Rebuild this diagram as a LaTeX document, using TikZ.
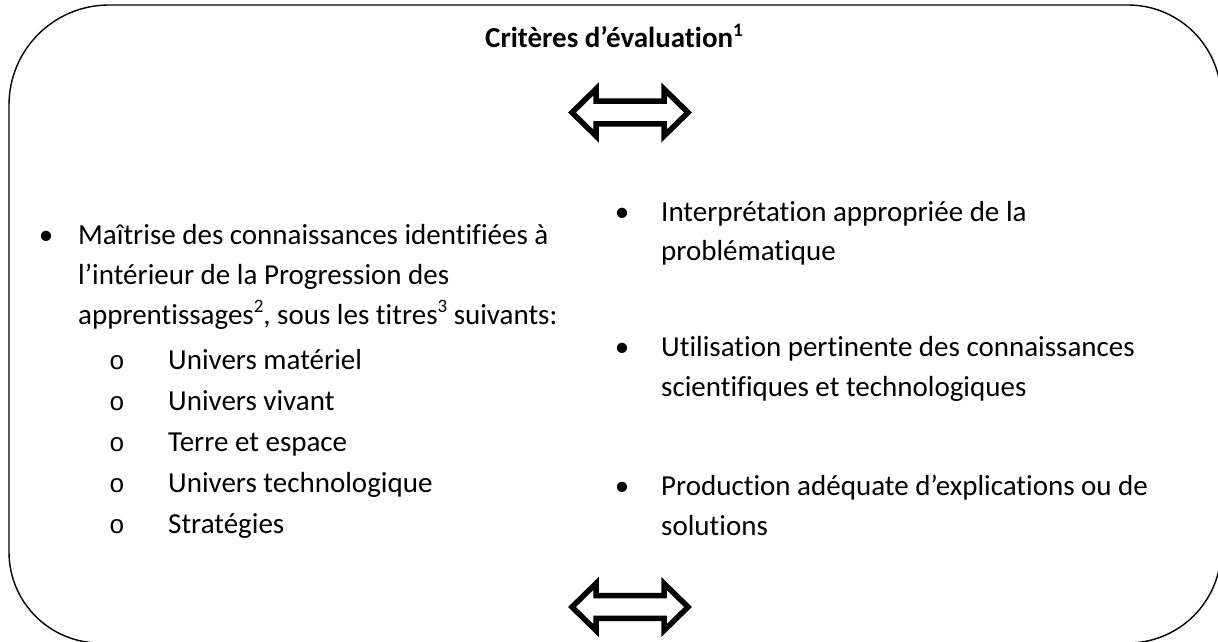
\documentclass[tikz,border=0pt]{standalone}
\usepackage{fontspec}
\setmainfont{Carlito}[Ligatures={NoCommon,NoContextual,NoRare}]
\newfontfamily\monofnt{Liberation Mono}
\newcommand\supnum[1]{\raisebox{0.38em}{\fontsize{19}{19}\selectfont #1}}
\tikzset{
  txt/.style={anchor=base west, inner sep=0pt, font=\fontsize{29}{35}\selectfont},
  bul/.style={anchor=base, inner sep=0pt, font=\fontsize{29}{35}\selectfont},
  subbul/.style={anchor=base, inner sep=0pt, font=\monofnt\fontsize{26}{35}\selectfont},
  title/.style={anchor=base, inner sep=0pt, font=\bfseries\fontsize{29}{35}\selectfont},
  frame/.style={line width=1.4pt},
  dblarrow/.style={line width=5.5pt, fill=white, draw=black, line join=miter},
}
\begin{document}
\begin{tikzpicture}[x=1pt,y=-1pt]
\useasboundingbox (0,0) rectangle (1218,642);
% frame
\draw[frame] (9,552) -- (9,105) arc[start angle=180, end angle=270, radius=100]
  -- (1128,5) arc[start angle=270, end angle=360, radius=93]
  -- (1221,550) arc[start angle=0, end angle=90, radius=93]
  -- (100,643) arc[start angle=90, end angle=180, radius=91] -- cycle;
% double arrows
\foreach \cy in {112.5,607}{
  \draw[dblarrow, shift={(630,\cy)}] (-58,0) -- (-34,-23.5) -- (-34,-11.3) -- (34,-11.3)
    -- (34,-23.5) -- (58,0) -- (34,23.5) -- (34,11.3) -- (-34,11.3) -- (-34,23.5) -- cycle;
}
% title
\node[title] (t) at (614,48) {Critères d’évaluation\supnum{1}};
% left column
\node[bul] (lb) at (46,244) {•};
\node[txt] (l1) at (78,244) {Maîtrise des connaissances identifiées à};
\node[txt] (l2) at (78,284) {l’intérieur de la Progression des};
\node[txt] (l3) at (78,324) {apprentissages\supnum{2}, sous les titres\supnum{3} suivants:};
\node[subbul] (s1b) at (117,369) {o};
\node[txt] (s1) at (168,369) {Univers matériel};
\node[subbul] (s2b) at (117,410) {o};
\node[txt] (s2) at (168,410) {Univers vivant};
\node[subbul] (s3b) at (117,451) {o};
\node[txt] (s3) at (168,451) {Terre et espace};
\node[subbul] (s4b) at (117,492) {o};
\node[txt] (s4) at (168,492) {Univers technologique};
\node[subbul] (s5b) at (117,533) {o};
\node[txt] (s5) at (168,533) {Stratégies};
% right column
\node[bul] (r1b) at (622,221) {•};
\node[txt] (r1a) at (661,221) {Interprétation appropriée de la};
\node[txt] (r1c) at (661,260) {problématique};
\node[bul] (r2b) at (622,356) {•};
\node[txt] (r2a) at (661,356) {Utilisation pertinente des connaissances};
\node[txt] (r2c) at (661,396) {scientifiques et technologiques};
\node[bul] (r3b) at (622,495) {•};
\node[txt] (r3a) at (661,495) {Production adéquate d’explications ou de};
\node[txt] (r3c) at (661,535) {solutions};
\end{tikzpicture}
\end{document}
